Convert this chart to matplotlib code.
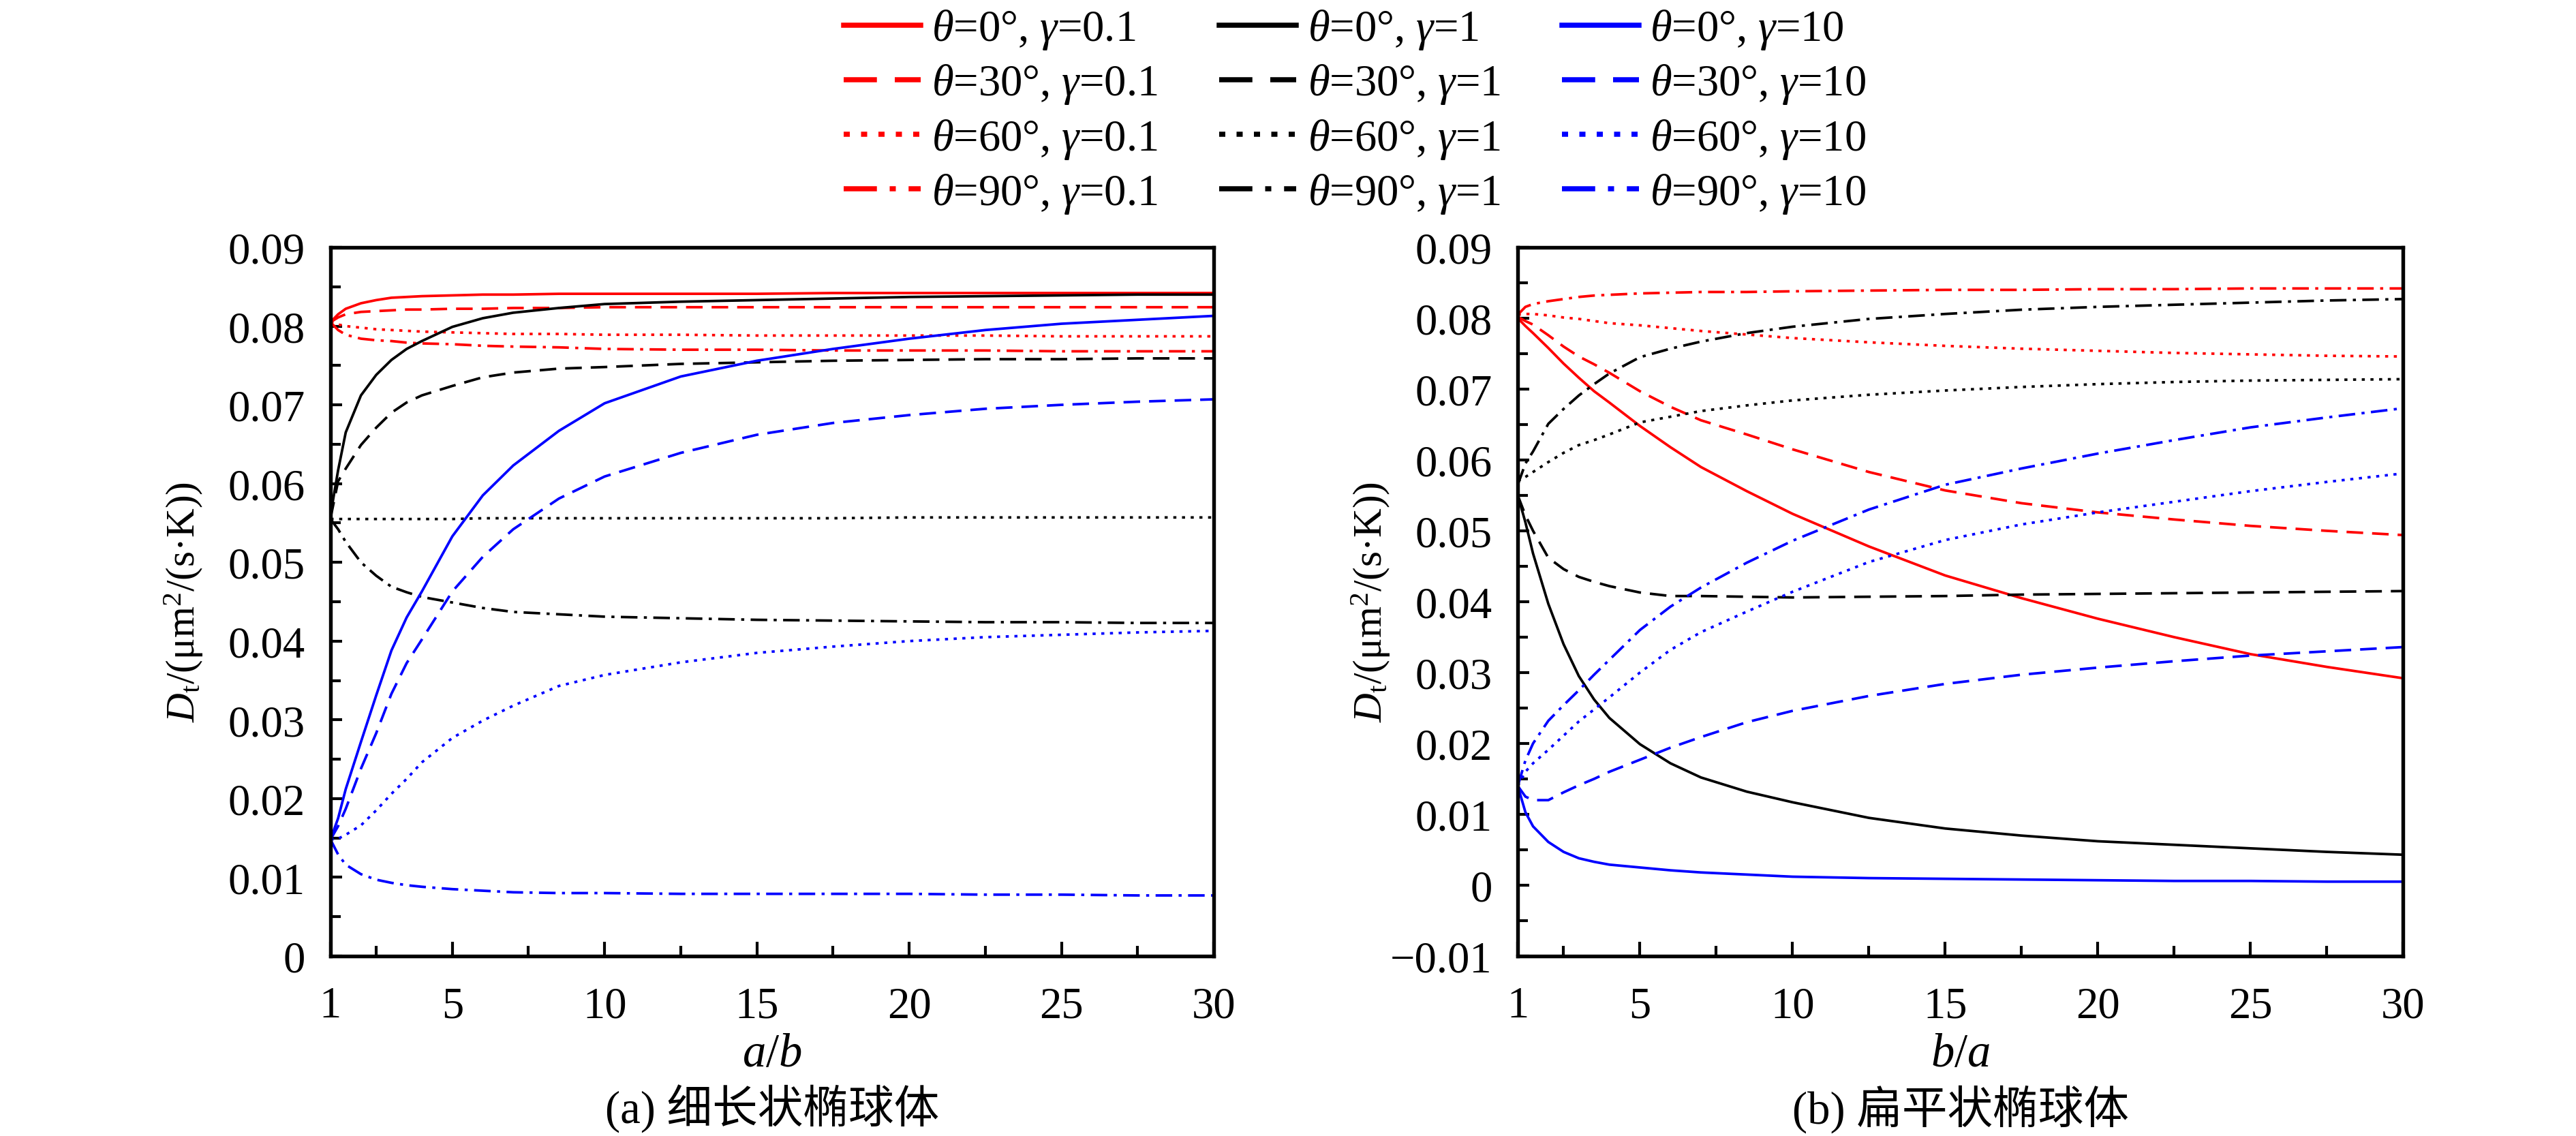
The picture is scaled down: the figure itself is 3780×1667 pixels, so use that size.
import matplotlib
matplotlib.use("Agg")
import matplotlib.pyplot as plt
from matplotlib.ticker import MultipleLocator, FixedLocator

plt.rcParams['font.family'] = ['Liberation Serif', 'Noto Sans CJK SC']
plt.rcParams['mathtext.fontset'] = 'custom'
plt.rcParams['mathtext.rm'] = 'Liberation Serif'
plt.rcParams['mathtext.it'] = 'Liberation Serif:italic'
plt.rcParams['mathtext.bf'] = 'Liberation Serif:bold'
plt.rcParams['axes.unicode_minus'] = True

# shared abscissa of the read-off points (a/b on the left, b/a on the right)
ratio = [1, 1.25, 1.5, 2, 2.5, 3, 3.5, 4, 5, 6, 7, 8.5, 10, 12.5, 15, 17.5, 20, 22.5, 25, 27.5, 30]

thetas = ['0', '30', '60', '90']
gammas = ['0.1', '1', '10']

# (a) prolate ellipsoid, keys (gamma, theta)
prolate = {
    ('0.1', '0'):  [0.0805, 0.0815, 0.0822, 0.0829, 0.0833, 0.0836, 0.0837, 0.0838, 0.0839, 0.0840, 0.0840,
                    0.0841, 0.0841, 0.0841, 0.0841, 0.0842, 0.0842, 0.0842, 0.0842, 0.0842, 0.0842],
    ('0.1', '30'): [0.0805, 0.0811, 0.0815, 0.0818, 0.0819, 0.0820, 0.0821, 0.0821, 0.0822, 0.0822, 0.0823,
                    0.0823, 0.0824, 0.0824, 0.0824, 0.0824, 0.0824, 0.0824, 0.0824, 0.0824, 0.0824],
    ('0.1', '60'): [0.0805, 0.0802, 0.0800, 0.0798, 0.0796, 0.0795, 0.0794, 0.0793, 0.0792, 0.0791, 0.0790,
                    0.0790, 0.0789, 0.0789, 0.0788, 0.0788, 0.0788, 0.0788, 0.0787, 0.0787, 0.0787],
    ('0.1', '90'): [0.0805, 0.0795, 0.0789, 0.0784, 0.0782, 0.0781, 0.0779, 0.0778, 0.0777, 0.0775, 0.0774,
                    0.0773, 0.0771, 0.0770, 0.0770, 0.0769, 0.0769, 0.0769, 0.0768, 0.0768, 0.0768],
    ('1', '0'):    [0.0560, 0.0617, 0.0665, 0.0712, 0.0738, 0.0757, 0.0771, 0.0781, 0.0799, 0.0810, 0.0817,
                    0.0823, 0.0828, 0.0831, 0.0833, 0.0835, 0.0837, 0.0838, 0.0839, 0.0840, 0.0840],
    ('1', '30'):   [0.0556, 0.0603, 0.0619, 0.0649, 0.0671, 0.0690, 0.0703, 0.0712, 0.0724, 0.0735, 0.0741,
                    0.0746, 0.0748, 0.0752, 0.0754, 0.0756, 0.0757, 0.0758, 0.0758, 0.0759, 0.0759],
    ('1', '60'):   [0.0555, 0.0555, 0.0555, 0.0555, 0.0555, 0.0555, 0.0555, 0.0555, 0.0555, 0.0556, 0.0556,
                    0.0556, 0.0556, 0.0556, 0.0556, 0.0556, 0.0557, 0.0557, 0.0557, 0.0557, 0.0557],
    ('1', '90'):   [0.0555, 0.0542, 0.0526, 0.0500, 0.0483, 0.0469, 0.0462, 0.0456, 0.0449, 0.0442, 0.0437,
                    0.0434, 0.0431, 0.0429, 0.0427, 0.0426, 0.0425, 0.0424, 0.0424, 0.0423, 0.0423],
    ('10', '0'):   [0.0148, 0.0175, 0.0212, 0.0272, 0.0331, 0.0388, 0.0430, 0.0463, 0.0533, 0.0585, 0.0623,
                    0.0667, 0.0702, 0.0736, 0.0756, 0.0771, 0.0784, 0.0795, 0.0803, 0.0808, 0.0813],
    ('10', '30'):  [0.0148, 0.0165, 0.0187, 0.0238, 0.0283, 0.0333, 0.0372, 0.0402, 0.0463, 0.0507, 0.0542,
                    0.0581, 0.0609, 0.0639, 0.0662, 0.0677, 0.0687, 0.0695, 0.0700, 0.0704, 0.0707],
    ('10', '60'):  [0.0148, 0.0149, 0.0154, 0.0166, 0.0185, 0.0206, 0.0225, 0.0246, 0.0277, 0.0299, 0.0318,
                    0.0343, 0.0357, 0.0373, 0.0385, 0.0393, 0.0400, 0.0405, 0.0408, 0.0411, 0.0413],
    ('10', '90'):  [0.0148, 0.0129, 0.0116, 0.0104, 0.0097, 0.0093, 0.0090, 0.0088, 0.0085, 0.0083, 0.0081,
                    0.0080, 0.0080, 0.0079, 0.0079, 0.0079, 0.0079, 0.0078, 0.0078, 0.0077, 0.0077],
}

# (b) oblate ellipsoid
oblate = {
    ('0.1', '0'):  [0.0800, 0.0789, 0.0779, 0.0758, 0.0736, 0.0716, 0.0697, 0.0681, 0.0648, 0.0618, 0.0590,
                    0.0556, 0.0524, 0.0478, 0.0437, 0.0405, 0.0376, 0.0350, 0.0326, 0.0308, 0.0292],
    ('0.1', '30'): [0.0802, 0.0796, 0.0791, 0.0776, 0.0760, 0.0746, 0.0735, 0.0723, 0.0697, 0.0675, 0.0656,
                    0.0636, 0.0615, 0.0583, 0.0557, 0.0539, 0.0526, 0.0516, 0.0507, 0.0500, 0.0494],
    ('0.1', '60'): [0.0805, 0.0806, 0.0806, 0.0804, 0.0801, 0.0799, 0.0796, 0.0793, 0.0790, 0.0786, 0.0782,
                    0.0777, 0.0772, 0.0766, 0.0761, 0.0757, 0.0754, 0.0751, 0.0749, 0.0747, 0.0746],
    ('0.1', '90'): [0.0805, 0.0816, 0.0820, 0.0824, 0.0827, 0.0830, 0.0832, 0.0833, 0.0835, 0.0836, 0.0837,
                    0.0837, 0.0838, 0.0839, 0.0840, 0.0840, 0.0841, 0.0841, 0.0842, 0.0842, 0.0842],
    ('1', '0'):    [0.0550, 0.0512, 0.0468, 0.0397, 0.0340, 0.0295, 0.0262, 0.0236, 0.0199, 0.0172, 0.0152,
                    0.0132, 0.0117, 0.0095, 0.0080, 0.0070, 0.0062, 0.0057, 0.0052, 0.0047, 0.0043],
    ('1', '30'):   [0.0550, 0.0522, 0.0500, 0.0462, 0.0446, 0.0435, 0.0428, 0.0422, 0.0413, 0.0408, 0.0408,
                    0.0407, 0.0406, 0.0407, 0.0408, 0.0410, 0.0411, 0.0412, 0.0413, 0.0414, 0.0415],
    ('1', '60'):   [0.0570, 0.0576, 0.0583, 0.0597, 0.0610, 0.0621, 0.0628, 0.0636, 0.0653, 0.0661, 0.0669,
                    0.0677, 0.0684, 0.0692, 0.0698, 0.0703, 0.0707, 0.0710, 0.0712, 0.0713, 0.0714],
    ('1', '90'):   [0.0565, 0.0595, 0.0612, 0.0651, 0.0672, 0.0691, 0.0707, 0.0722, 0.0745, 0.0757, 0.0767,
                    0.0779, 0.0788, 0.0799, 0.0806, 0.0812, 0.0816, 0.0819, 0.0822, 0.0825, 0.0827],
    ('10', '0'):   [0.0140, 0.0103, 0.0083, 0.0061, 0.0047, 0.0038, 0.0033, 0.0029, 0.0025, 0.0021, 0.0018,
                    0.0015, 0.0012, 0.0010, 0.0009, 0.0008, 0.0007, 0.0006, 0.0006, 0.0005, 0.0005],
    ('10', '30'):  [0.0140, 0.0125, 0.0120, 0.0120, 0.0131, 0.0141, 0.0150, 0.0160, 0.0177, 0.0194, 0.0209,
                    0.0230, 0.0246, 0.0267, 0.0284, 0.0297, 0.0307, 0.0316, 0.0324, 0.0330, 0.0336],
    ('10', '60'):  [0.0140, 0.0160, 0.0172, 0.0191, 0.0211, 0.0231, 0.0248, 0.0265, 0.0300, 0.0332, 0.0357,
                    0.0386, 0.0414, 0.0456, 0.0487, 0.0509, 0.0526, 0.0541, 0.0556, 0.0569, 0.0581],
    ('10', '90'):  [0.0140, 0.0176, 0.0200, 0.0232, 0.0254, 0.0275, 0.0297, 0.0318, 0.0360, 0.0393, 0.0420,
                    0.0455, 0.0486, 0.0530, 0.0565, 0.0588, 0.0609, 0.0628, 0.0646, 0.0660, 0.0673],
}

colors = {'0.1': '#ff0000', '1': '#000000', '10': '#0000ff'}
dashes = {'0': None, '30': (6.5, 3.5), '60': (1.2, 2.2), '90': (6.5, 2.5, 1.2, 2.5)}

LW = 0.9
FS = 15.5

fig = plt.figure(figsize=(12.6, 5.56), dpi=300)
axA = fig.add_axes([0.1283, 0.1583, 0.3429, 0.6235])
axB = fig.add_axes([0.5892, 0.1583, 0.3437, 0.6235])


def draw(ax, data, ylim, xlab, caption):
    handles = []
    for g in gammas:
        for t in thetas:
            ln, = ax.plot(ratio, data[(g, t)], color=colors[g], lw=LW,
                          label=r'$\theta$=' + t + r'°, $\gamma$=' + g)
            if dashes[t] is not None:
                ln.set_dashes(dashes[t])
            handles.append(ln)
    ax.set_xlim(1, 30)
    ax.set_ylim(*ylim)
    ax.xaxis.set_major_locator(FixedLocator([1, 5, 10, 15, 20, 25, 30]))
    ax.xaxis.set_minor_locator(FixedLocator([2.5, 7.5, 12.5, 17.5, 22.5, 27.5]))
    ax.yaxis.set_major_locator(MultipleLocator(0.01))
    ax.yaxis.set_minor_locator(MultipleLocator(0.005))
    ax.yaxis.set_major_formatter(matplotlib.ticker.FuncFormatter(
        lambda v, p: '0' if abs(v) < 1e-9 else ('\u2212' if v < 0 else '') + '%g' % abs(v)))
    ax.tick_params(axis='both', which='both', direction='in', labelsize=FS, width=1.0)
    ax.tick_params(axis='y', which='major', length=4, pad=9)
    ax.tick_params(axis='y', which='minor', length=3.5)
    ax.tick_params(axis='x', which='major', length=5, pad=10.5)
    ax.tick_params(axis='x', which='minor', length=3.5)
    for s in ax.spines.values():
        s.set_linewidth(1.3)
    ax.set_ylabel(r'$D_{\rm t}$/(μm$^2$/(s·K))', fontsize=FS - 1.3)
    ax.yaxis.set_label_coords(-0.142, 0.5)
    ax.set_xlabel(xlab, fontsize=FS + 1)
    ax.xaxis.set_label_coords(0.5, -0.108)
    ax.text(0.5, -0.215, caption, transform=ax.transAxes, ha='center', va='center',
            fontsize=FS + 0.5)
    return handles


hA = draw(axA, prolate, (0, 0.09), '$a/b$', '(a) 细长状椭球体')
draw(axB, oblate, (-0.01, 0.09), '$b/a$', '(b) 扁平状椭球体')

leg = fig.legend(hA, [h.get_label() for h in hA], ncol=3, loc='upper center',
                 bbox_to_anchor=(0.526, 1.012), frameon=False, fontsize=FS,
                 handlelength=1.75, handletextpad=0.25, columnspacing=1.4,
                 labelspacing=0.25, borderpad=0.0)
for ln in leg.get_lines():
    ln.set_linewidth(1.8)

fig.savefig('out.png', dpi=300)
